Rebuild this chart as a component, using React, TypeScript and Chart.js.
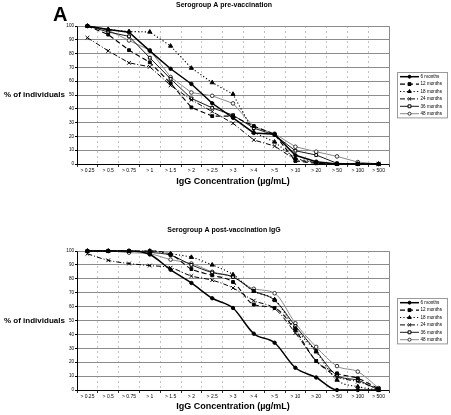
import React, { useEffect, useRef } from "react";
import { Chart, registerables } from "chart.js";

Chart.register(...registerables);

const categories = ["> 0.25", "> 0.5", "> 0.75", "> 1", "> 1.5", "> 2", "> 2.5", "> 3", "> 4", "> 5", "> 10", "> 20", "> 50", "> 100", "> 500"];
const seriesNames = ["6 months", "12 months", "18 months", "24 months", "36 months", "48 months"];
const yTickValues = [0, 10, 20, 30, 40, 50, 60, 70, 80, 90, 100];

// Pre-vaccination (% of individuals above each IgG concentration)
const pre6m = [100, 97.4, 95.5, 82, 69, 58, 44, 33.5, 22.5, 21.5, 6.3, 1.7, 0, 0, 0];
const pre12m = [100, 93.8, 82.5, 73.7, 58.5, 41, 34.7, 34.7, 27.5, 21.5, 2.2, 0.5, 0, 0, 0];
const pre18m = [100, 97.5, 96, 95.7, 85.5, 69.5, 59, 50.6, 23, 16, 4, 1, 0, 0, 0];
const pre24m = [91.5, 82, 73.3, 70.4, 57, 46.5, 38, 29.5, 17.4, 13, 3, 1, 0, 0, 0];
const pre36m = [100, 95.7, 92.5, 77, 61.7, 47.5, 40.7, 35.4, 26, 21, 9.6, 6.5, 0.5, 0, 0];
const pre48m = [100, 97, 89.5, 82.5, 63, 51.8, 49.4, 43.9, 27, 22, 12.5, 8.9, 5.5, 1.4, 0];

// Post-vaccination IgG
const post6m = [100, 100, 100, 97.5, 86.5, 77, 66, 59, 40.5, 34, 16, 9, 0, 0, 0];
const post12m = [100, 100, 100, 100, 97.6, 87, 82.5, 77.7, 61.5, 59, 43, 20.8, 12, 8.4, 1];
const post18m = [100, 100, 100, 100, 98, 95.5, 90, 83, 71, 65, 44, 27.5, 7.2, 2.4, 0];
const post24m = [98, 93.3, 91, 89.5, 88, 82, 79, 73.4, 64.3, 58.6, 41, 21, 9.6, 6, 0.7];
const post36m = [100, 100, 100, 99, 97, 90, 84.5, 81.3, 71.3, 64.6, 46, 28, 10.5, 7, 0];
const post48m = [100, 100, 98.8, 98, 93.8, 91, 85, 81.5, 72.8, 69.6, 48, 31, 17.2, 13.2, 1.4];

const FONT = "'Liberation Sans', Arial, Helvetica, sans-serif";

type SeriesStyle = {
  color: string;
  width: number;
  dash: number[];
  point: string;
  radius: number;
  fill: string;
  pointBorder: string;
};

const styles: SeriesStyle[] = [
  { color: "#000000", width: 1.5, dash: [], point: "circle", radius: 1.7, fill: "#000000", pointBorder: "#000000" },
  { color: "#000000", width: 1.1, dash: [5, 3], point: "rect", radius: 2, fill: "#000000", pointBorder: "#000000" },
  { color: "#000000", width: 1.1, dash: [1.2, 2.2], point: "triangle", radius: 2.4, fill: "#000000", pointBorder: "#000000" },
  { color: "#000000", width: 1, dash: [5, 2, 1, 2], point: "crossRot", radius: 2.6, fill: "#000000", pointBorder: "#000000" },
  { color: "#000000", width: 0.9, dash: [], point: "rect", radius: 2, fill: "#ffffff", pointBorder: "#000000" },
  { color: "#8a8a8a", width: 1, dash: [], point: "circle", radius: 1.8, fill: "#ffffff", pointBorder: "#333333" },
];

function drawMarker(ctx: CanvasRenderingContext2D, s: SeriesStyle, x: number, y: number) {
  const r = s.radius;
  ctx.save();
  ctx.setLineDash([]);
  ctx.fillStyle = s.fill;
  ctx.strokeStyle = s.pointBorder;
  ctx.lineWidth = 1;
  ctx.beginPath();
  if (s.point === "circle") {
    ctx.arc(x, y, r, 0, Math.PI * 2);
    ctx.fill();
    ctx.stroke();
  } else if (s.point === "rect") {
    const h = r * Math.SQRT1_2 * 1.2;
    ctx.rect(x - h, y - h, h * 2, h * 2);
    ctx.fill();
    ctx.stroke();
  } else if (s.point === "triangle") {
    ctx.moveTo(x, y - r);
    ctx.lineTo(x + r * 0.87, y + r * 0.5);
    ctx.lineTo(x - r * 0.87, y + r * 0.5);
    ctx.closePath();
    ctx.fill();
    ctx.stroke();
  } else {
    const d = r * 0.7;
    ctx.moveTo(x - d, y - d);
    ctx.lineTo(x + d, y + d);
    ctx.moveTo(x + d, y - d);
    ctx.lineTo(x - d, y + d);
    ctx.stroke();
  }
  ctx.restore();
}

type PanelProps = {
  top: number;
  height: number;
  title: string;
  titleY: number;
  areaTop: number;
  areaBottom: number;
  xTitlePad: number;
  showLetter: boolean;
  smooth: boolean;
  values: number[][];
};

function Panel(props: PanelProps) {
  const ref = useRef<HTMLCanvasElement | null>(null);
  useEffect(() => {
    const canvas = ref.current;
    if (!canvas) return;
    const W = 451;
    const plotLeft = 77;
    const plotRight = 389;
    const xAxisH = 24;

    const decor = {
      id: "decor",
      beforeDatasetsDraw(chart: any) {
        const { ctx, chartArea } = chart;
        ctx.save();
        ctx.strokeStyle = "#8c8c8c";
        ctx.lineWidth = 1;
        ctx.setLineDash([]);
        ctx.beginPath();
        ctx.moveTo(Math.round(chartArea.left) + 0.5, Math.round(chartArea.top) + 0.5);
        ctx.lineTo(Math.round(chartArea.right) + 0.5, Math.round(chartArea.top) + 0.5);
        ctx.lineTo(Math.round(chartArea.right) + 0.5, Math.round(chartArea.bottom) + 0.5);
        ctx.stroke();
        ctx.restore();
      },
      afterDraw(chart: any) {
        const { ctx, chartArea } = chart;
        ctx.save();
        ctx.fillStyle = "#000";
        ctx.font = `bold 7px ${FONT}`;
        ctx.textAlign = "center";
        ctx.textBaseline = "middle";
        ctx.fillText(props.title, 224, props.titleY);
        if (props.showLetter) {
          ctx.font = `bold 20px ${FONT}`;
          ctx.textAlign = "left";
          ctx.textBaseline = "alphabetic";
          ctx.fillText("A", 53, 21);
        }
        const midY = (chartArea.top + chartArea.bottom) / 2;
        ctx.font = `bold 8px ${FONT}`;
        ctx.textAlign = "left";
        ctx.textBaseline = "middle";
        ctx.fillText("% of individuals", 4, midY);
        const n = chart.data.datasets.length;
        const rowH = 7.4;
        const boxX = 397.5;
        const boxW = 50;
        const boxH = n * rowH + 1;
        const boxY = Math.round(midY - boxH / 2) + 0.5;
        ctx.fillStyle = "#ffffff";
        ctx.fillRect(boxX, boxY, boxW, boxH);
        ctx.strokeStyle = "#9a9a9a";
        ctx.lineWidth = 1;
        ctx.strokeRect(boxX, boxY, boxW, boxH);
        chart.data.datasets.forEach((ds: any, i: number) => {
          const s = styles[i];
          const y = boxY + 0.5 + rowH * (i + 0.5);
          ctx.save();
          ctx.strokeStyle = s.color;
          ctx.lineWidth = s.width;
          ctx.setLineDash(s.dash);
          ctx.beginPath();
          ctx.moveTo(400, y);
          ctx.lineTo(419, y);
          ctx.stroke();
          ctx.restore();
          drawMarker(ctx, { ...s, radius: s.radius * 0.85 }, 409.5, y);
          ctx.fillStyle = "#000";
          ctx.font = `4.6px ${FONT}`;
          ctx.textAlign = "left";
          ctx.textBaseline = "middle";
          ctx.fillText(ds.label, 420.5, y);
        });
        ctx.restore();
      },
    };

    const chart = new Chart(canvas, {
      type: "line",
      data: {
        labels: categories,
        datasets: seriesNames.map((name, i) => ({
          label: name,
          data: props.values[i],
          borderColor: styles[i].color,
          borderWidth: styles[i].width,
          borderDash: styles[i].dash,
          pointStyle: styles[i].point as any,
          pointRadius: styles[i].radius,
          pointBackgroundColor: styles[i].fill,
          pointBorderColor: styles[i].pointBorder,
          pointBorderWidth: 1,
          tension: props.smooth ? 0.3 : 0,
          cubicInterpolationMode: props.smooth ? ("monotone" as any) : ("default" as any),
          fill: false,
          clip: false as any,
        })),
      },
      options: {
        responsive: false,
        animation: false,
        devicePixelRatio: 1,
        events: [],
        layout: {
          padding: {
            left: 0,
            right: W - plotRight,
            top: props.areaTop,
            bottom: props.height - props.areaBottom - xAxisH,
          },
        },
        plugins: {
          legend: { display: false },
          title: { display: false },
          tooltip: { enabled: false },
        },
        scales: {
          x: {
            type: "category",
            offset: true,
            grid: {
              offset: true,
              color: "#b5b5b5",
              lineWidth: 0.8,
              drawTicks: true,
              tickLength: 3,
              tickColor: "#000000",
              tickWidth: 0.8,
            },
            border: { display: true, color: "#000000", width: 1, dash: [2, 3] },
            ticks: {
              font: { size: 5, family: FONT },
              color: "#000000",
              maxRotation: 0,
              minRotation: 0,
              autoSkip: false,
              padding: 1,
            },
            title: {
              display: true,
              text: "IgG Concentration (µg/mL)",
              font: { size: 9, weight: "bold", family: FONT },
              color: "#000000",
              padding: { top: 0, bottom: props.xTitlePad },
            },
            afterFit: (s: any) => {
              s.height = xAxisH;
            },
          },
          y: {
            min: 0,
            max: 100,
            afterBuildTicks: (s: any) => {
              s.ticks = yTickValues.map((v) => ({ value: v }));
            },
            grid: {
              color: "#8c8c8c",
              lineWidth: 1,
              drawTicks: true,
              tickLength: 2,
              tickColor: "#000000",
            },
            border: { display: true, color: "#000000", width: 1 },
            ticks: {
              font: { size: 4.6, family: FONT },
              color: "#000000",
              padding: 1,
            },
            afterFit: (s: any) => {
              s.width = plotLeft;
            },
          },
        },
      },
      plugins: [decor],
    });
    return () => chart.destroy();
  }, []);

  return (
    <canvas
      ref={ref}
      width={451}
      height={props.height}
      style={{ position: "absolute", left: 0, top: props.top, width: 451, height: props.height, display: "block" }}
    />
  );
}

export default function App() {
  return (
    <div style={{ position: "absolute", left: 0, top: 0, width: 451, height: 415, background: "#ffffff", overflow: "hidden" }}>
      <Panel
        top={0}
        height={205}
        title="Serogroup A pre-vaccination"
        titleY={5.5}
        areaTop={26}
        areaBottom={164}
        xTitlePad={0.6}
        showLetter={true}
        smooth={false}
        values={[pre6m, pre12m, pre18m, pre24m, pre36m, pre48m]}
      />
      <Panel
        top={205}
        height={210}
        title="Serogroup A post-vaccination IgG"
        titleY={25}
        areaTop={46}
        areaBottom={185}
        xTitlePad={1.6}
        showLetter={false}
        smooth={true}
        values={[post6m, post12m, post18m, post24m, post36m, post48m]}
      />
    </div>
  );
}
